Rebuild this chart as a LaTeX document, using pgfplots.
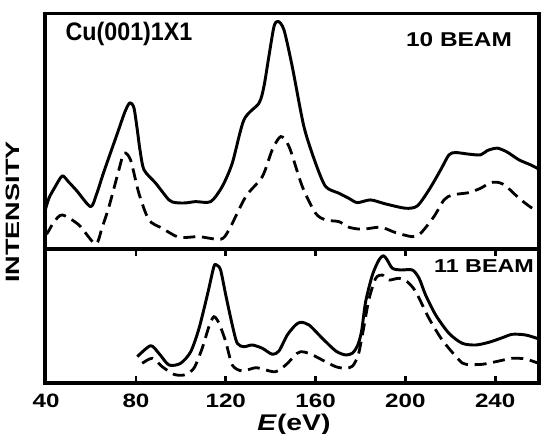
\documentclass[border=0pt]{standalone}
\usepackage{fontspec}
\setmainfont{Liberation Sans}
\usepackage{graphicx}
\usepackage{pgfplots}
\pgfplotsset{compat=1.18}
\newcommand{\hs}[2][1.3]{\scalebox{#1}[1]{#2}}
\newcommand{\fs}[1]{\fontsize{#1}{#1}\selectfont\bfseries}
\begin{document}
\begin{tikzpicture}
\pgfplotsset{
  panel/.style={scale only axis, width=370.5pt, xmin=39.5, xmax=259.5,
    line width=2.4pt, ytick=\empty, clip=true,
    major tick length=5pt, tick align=inside,
    tick style={line width=2pt, black}},
  sol/.style={black, line width=2.2pt, smooth, tension=0.45, line join=round},
  das/.style={black, line width=2.1pt, smooth, tension=0.45, dash pattern=on 9pt off 5pt},
}
% bottom panel (11 beam)
\begin{axis}[panel, name=bot, at={(0pt,0pt)}, anchor=south west, height=100.5pt,
  ymin=0, ymax=134,
  xtick={40,80,120,160,200,240},
  xticklabels={\hs[1.25]{40},\hs[1.25]{80},\hs[1.25]{120},\hs[1.25]{160},\hs[1.25]{200},\hs[1.25]{240}},
  xticklabel style={font=\fs{14.5}, anchor=center, yshift=-13.5pt},
  ]
\addplot[sol] coordinates {(80.6,26.3) (86.5,37.3) (90.2,29.7) (94.7,18) (99.9,19.7) (104.4,31.3) (108.1,54.7) (111.8,88) (114.7,116.3) (115.9,118) (117.7,113) (120.0,88) (122.9,58) (125.1,39.7) (128.1,36.3) (131.8,38) (136.3,34.7) (140.7,28.7) (143.7,32) (147.4,48) (151.1,58) (153.4,60.7) (157.1,58) (163.0,44.7) (169.0,32) (173.4,28) (176.5,30) (178.8,38) (180.5,52) (182.3,81.3) (185.3,108) (188.2,123) (190.2,127.3) (191.9,123) (194.2,114.7) (197.9,113) (203.1,113) (206.1,104.7) (209.0,88) (213.5,68) (219.4,49.7) (225.3,39.7) (231.3,38) (237.2,40.7) (243.2,45.3) (247.6,48.7) (253.6,48) (259.5,44)};
\addplot[das] coordinates {(82.8,19.7) (87.3,24.7) (91.7,16.3) (96.9,8.7) (101.4,8) (105.8,14.7) (109.5,34.7) (112.5,56.3) (114.7,66.3) (117.0,59.7) (120.0,41.3) (122.9,18) (127.3,12) (133.3,15.3) (137.8,13) (142.2,11.3) (146.7,18) (151.8,29.7) (153.4,31.3) (157.1,29.7) (163.0,23) (169.0,16.3) (173.4,14.7) (176.5,17) (179.0,28) (181.0,50) (183.8,84) (186.8,104.7) (189.7,108) (192.7,103) (197.1,104.7) (200.8,101.3) (204.6,91.3) (210.5,64.7) (216.4,43) (223.9,23) (226.9,18.7) (234.3,18.7) (241.7,22) (247.6,24.7) (253.6,24) (259.5,19.5)};
\node[font=\fs{14}] at (axis cs:235,117) {\hs[1.25]{11 BEAM}};
\end{axis}
% top panel (10 beam)
\begin{axis}[panel, name=top, at={(0pt,100.5pt)}, anchor=south west, height=176.25pt,
  ymin=0, ymax=235, xtick=\empty]
\addplot[sol] coordinates {(39.5,38) (41.3,51) (44,62) (47.2,73) (50,67) (53.7,58) (59.8,42.3) (62.5,55) (65.7,77) (71.5,114) (75.1,137) (77.3,146) (79.1,141) (80.6,119) (81.8,99) (83.6,79) (88.8,65.7) (94.7,49) (97.7,46.3) (102,46) (106.6,47.3) (113.3,47.3) (118.4,62.3) (122.9,85.7) (128.1,129) (134.8,145.7) (137.0,162.3) (139.2,192.3) (141.5,222.3) (143.3,227.3) (145.9,219) (149.6,182.3) (154.8,122.3) (160.0,85.7) (164.5,62.3) (170.4,55.7) (174.9,50.5) (178.6,46.3) (184.5,49) (191.2,45) (200.1,40.7) (205.3,43) (210.5,59) (215.7,79) (219.4,94) (222.4,96.3) (228.3,94.7) (233.5,94) (236.5,98.3) (240.9,100.7) (245.4,96.7) (250.6,89) (255.8,84) (259.5,79.7)};
\addplot[das] coordinates {(39.5,15) (40.5,15.7) (43.5,27) (47.2,34) (54.6,24) (62.0,5) (65,22) (68.0,42.3) (72.4,79) (74.7,95.7) (77.6,89) (81.3,55.7) (85.8,29) (91.7,20.7) (99.2,11.7) (108.1,12.3) (117.7,9.7) (121.4,19) (128.9,52.3) (136.3,72.3) (140.7,99) (144.5,112.3) (148.2,102.3) (154.1,62.3) (160.0,35.7) (164.5,29) (170.4,27.3) (174.9,21.7) (180.8,19.7) (189.0,21.7) (195.7,16.3) (203.1,12.3) (206.8,15.7) (212.7,32.3) (217.2,49) (220.9,54) (228.3,56.3) (233.5,60.7) (238.0,66.3) (241.7,66.3) (244.7,63) (250.6,50.7) (255.8,41.7) (259.5,37.3)};
\node[font=\fs{19}] at (axis cs:76.9,215) {\hs[0.92]{Cu(001)1X1}};
\node[font=\fs{15}] at (axis cs:223.9,209) {\hs[1.22]{10 BEAM}};
\end{axis}
\node[rotate=90, font=\fs{14.5}] at (-24pt,128.25pt) {\hs[1.4]{INTENSITY}};
\node[font=\fs{17}] at (186.75pt,-31.5pt) {\hs[1.25]{\textit{E}(eV)}};
\pgfresetboundingbox
\useasboundingbox (-33.75pt,-38.25pt) rectangle (373.5pt,287.25pt);
\end{tikzpicture}
\end{document}
